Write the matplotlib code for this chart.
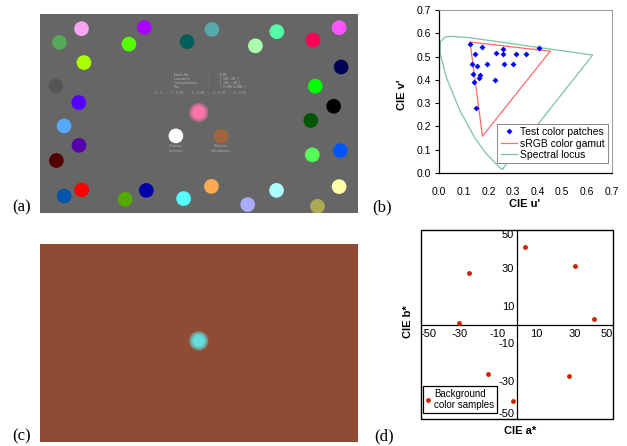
import numpy as np
import matplotlib.pyplot as plt
from matplotlib.patches import Circle, Rectangle

plt.rcParams['font.family'] = ['Liberation Sans', 'DejaVu Sans']
plt.rcParams['axes.unicode_minus'] = False

# ---- (a) test screen: colour patches on a 1280x800 grey display ----
screen_w, screen_h = 1280, 800
patch_x = [167, 78, 420, 358, 592, 692, 867, 953, 1099, 1204,
           177, 63, 1212, 156, 1108, 1182, 97, 1090, 157, 66,
           1096, 1209, 168, 97, 343, 428, 578, 690, 836, 952, 1204, 1117]
patch_y = [59, 114, 54, 121, 111, 62, 128, 71, 105, 55,
           195, 290, 213, 356, 290, 371, 450, 428, 528, 589,
           566, 549, 707, 732, 745, 709, 742, 693, 766, 709, 694, 773]
patch_colors = ['#F8A4F4', '#55AA55', '#AA00FF', '#55FF00', '#005F5A', '#55AAAA',
                '#AAFFAA', '#55FFAA', '#FF0055', '#FF55FF', '#AAFF00', '#555555',
                '#000055', '#5500FF', '#00FF00', '#000000', '#55AAFF', '#005500',
                '#5500AA', '#550000', '#55FF55', '#0055FF', '#FF0000', '#0055AA',
                '#55AA00', '#0000AA', '#55FFFF', '#FFAA55', '#AAAAFF', '#AAFFFF',
                '#FFFFAA', '#AAAA55']
ref_x = [547, 729]
ref_y = [490, 491]
ref_colors = ['#FFFFFF', '#A2643C']
ref_labels = ['Reference\nLuminance', 'Reference\nColourbalance']
info_lines = ['Patch No.          :      0/35',
              'Luminance          :      [ 100 189 ]',
              'Colourbalance      :      [ 100 : 60 ]',
              'Ros                :      [ 0.000 0.000 ]']
info_footer = 'X: 0  ,  Y: 0.00  ,  L: 0.00  ,  U: 0.00  ,  V: 0.00'
target_xy = (639, 396)
target_color = '#FF77AA'

# ---- (b) CIE u'v' chromaticities ----
patch_u = [0.125, 0.172, 0.145, 0.230, 0.257, 0.257, 0.312, 0.354, 0.405, 0.133,
           0.152, 0.195, 0.262, 0.300, 0.137, 0.167, 0.160, 0.140, 0.227, 0.151]
patch_v = [0.556, 0.541, 0.513, 0.514, 0.531, 0.511, 0.513, 0.513, 0.537, 0.470,
           0.461, 0.469, 0.466, 0.466, 0.426, 0.423, 0.406, 0.391, 0.399, 0.281]
srgb_u = [0.4507, 0.1250, 0.1754, 0.4507]
srgb_v = [0.5229, 0.5625, 0.1579, 0.5229]
locus_u = [0.2568, 0.2522, 0.2347, 0.2161, 0.1877, 0.1441, 0.0828, 0.0282, 0.0035,
           0.0046, 0.0231, 0.0501, 0.1127, 0.2026, 0.4035, 0.5203, 0.6234, 0.2568]
locus_v = [0.0166, 0.0169, 0.0350, 0.0549, 0.0871, 0.1510, 0.2708, 0.4117, 0.5131,
           0.5638, 0.5837, 0.5868, 0.5821, 0.5694, 0.5393, 0.5219, 0.5065, 0.0166]
uv_ticks = [0.0, 0.1, 0.2, 0.3, 0.4, 0.5, 0.6, 0.7]

# ---- (d) background colours in a*b* ----
bg_a = [4, 30, -25, 40, -30, -15, 27, -2]
bg_b = [41, 31, 27.5, 3, 0.8, -26, -27.5, -40.6]
ab_ticks = [-50, -30, -10, 10, 30, 50]

# ---- (c) target on background ----
bg_color = '#8E4C35'
target_c_color = '#66DDDD'

W, H = 627, 446
fig = plt.figure(figsize=(6.27, 4.46), dpi=100)


def px_axes(x0, y0, x1, y1):
    return fig.add_axes([x0 / W, 1 - y1 / H, (x1 - x0) / W, (y1 - y0) / H])


def screen_axes(ax, face):
    ax.set_xlim(0, screen_w)
    ax.set_ylim(screen_h, 0)
    ax.set_facecolor(face)
    ax.set_xticks([])
    ax.set_yticks([])
    for s in ax.spines.values():
        s.set_visible(False)


def soft_dot(ax, xy, color, r_core, r_glow, n=10):
    # blurred edge as a stack of faint rings
    for r in np.linspace(r_glow, r_core, n):
        ax.add_patch(Circle(xy, r, color=color, alpha=0.18, lw=0))
    ax.add_patch(Circle(xy, r_core, color=color, lw=0))


# (a)
ax_a = px_axes(40, 14, 358, 213)
screen_axes(ax_a, '#666666')
for x, y, c in zip(patch_x, patch_y, patch_colors):
    ax_a.add_patch(Circle((x, y), 29.5, color=c, lw=0))
for x, y, c, lab in zip(ref_x, ref_y, ref_colors, ref_labels):
    ax_a.add_patch(Circle((x, y), 29.5, color=c, lw=0))
    ax_a.text(x, y + 50, lab, ha='center', va='center', fontsize=2.2,
              color='#AAAAAA', linespacing=1.3)
soft_dot(ax_a, target_xy, target_color, 24, 40)
for i, line in enumerate(info_lines):
    ax_a.text(538, 244 + i * 15, line, fontsize=2.2, color='#BBBBBB',
              va='center', family='DejaVu Sans Mono')
ax_a.text(645, 317, info_footer, fontsize=2.2, color='#AAAAAA',
          ha='center', va='center', family='DejaVu Sans Mono')

# (c)
ax_c = px_axes(40, 244, 358, 442)
screen_axes(ax_c, bg_color)
soft_dot(ax_c, (639, 391), target_c_color, 24, 40)

# (b)
ax_b = px_axes(439.3, 10, 611.5, 173)
ax_b.plot(patch_u, patch_v, 'D', color='#0000FF', ms=3, mew=0,
          label='Test color patches', zorder=3)
ax_b.plot(srgb_u, srgb_v, color='#FF6A6A', lw=0.9, label='sRGB color gamut')
ax_b.plot(locus_u, locus_v, color='#7CC4A0', lw=0.9, label='Spectral locus')
ax_b.set_xlim(0, 0.7)
ax_b.set_ylim(0, 0.7)
ax_b.set_xticks(uv_ticks)
ax_b.set_yticks(uv_ticks)
ax_b.set_xticklabels(['%.1f' % t for t in uv_ticks])
ax_b.set_yticklabels(['%.1f' % t for t in uv_ticks])
ax_b.tick_params(axis='y', direction='out', length=3, width=0.8, pad=3,
                 labelsize=7.5)
ax_b.tick_params(axis='x', direction='out', length=0, pad=10, labelsize=7.5)
for s in ['top', 'right']:
    ax_b.spines[s].set_color('#999999')
    ax_b.spines[s].set_linewidth(0.7)
for s in ['left', 'bottom']:
    ax_b.spines[s].set_color('black')
    ax_b.spines[s].set_linewidth(0.9)
leg_b = ax_b.legend(loc='lower right', bbox_to_anchor=(0.98, 0.06),
                    prop={'size': 7.5},
                    fancybox=False, edgecolor='#888888', framealpha=1,
                    handlelength=1.6, handletextpad=0.3, borderpad=0.3,
                    labelspacing=0.15, borderaxespad=0)
leg_b.get_frame().set_linewidth(0.7)
fig.text(525 / W, 1 - 204 / H, "CIE u'", ha='center', va='center',
         fontsize=8, fontweight='bold')
fig.text(402 / W, 1 - 95 / H, "CIE v'", ha='center', va='center', rotation=90,
         fontsize=8, fontweight='bold')

# (d)
ax_d = px_axes(420.7, 230, 613.3, 419)
ax_d.plot(bg_a, bg_b, 'o', color='#CC2200', ms=3.5, mew=0,
          label='Background\ncolor samples', zorder=3)
ax_d.set_xlim(-50, 50)
ax_d.set_ylim(-50, 50)
ax_d.spines['left'].set_position('zero')
ax_d.spines['bottom'].set_position('zero')
ax_d.spines['top'].set_visible(False)
ax_d.spines['right'].set_visible(False)
for s in ['left', 'bottom']:
    ax_d.spines[s].set_linewidth(0.9)
ax_d.add_patch(Rectangle((0, 0), 1, 1, transform=ax_d.transAxes, fill=False,
                         lw=1.0, ec='black', clip_on=False))
ax_d.set_xticks(ab_ticks)
ax_d.set_yticks(ab_ticks)
ax_d.tick_params(direction='out', length=0, labelsize=8)
ax_d.tick_params(axis='x', pad=3)
ax_d.tick_params(axis='y', pad=2)
# keep the end labels inside the frame
xl = ax_d.get_xticklabels()
xl[0].set_ha('left')
xl[-1].set_ha('right')
yl = ax_d.get_yticklabels()
yl[0].set_va('bottom')
yl[-1].set_va('top')
leg_d = ax_d.legend(loc='lower left', bbox_to_anchor=(0.01, 0.03),
                    prop={'size': 7},
                    fancybox=False, edgecolor='black', framealpha=1,
                    handlelength=0.6, handletextpad=0.3, borderpad=0.3,
                    borderaxespad=0)
leg_d.get_frame().set_linewidth(0.9)
fig.text(408 / W, 1 - 322 / H, 'CIE b*', ha='center', va='center', rotation=90,
         fontsize=8, fontweight='bold')
fig.text(520 / W, 1 - 431 / H, 'CIE a*', ha='center', va='center',
         fontsize=8, fontweight='bold')

# panel letters
for lab, x, y in [('(a)', 22, 207), ('(b)', 382, 207), ('(c)', 22, 436), ('(d)', 384, 436)]:
    fig.text(x / W, 1 - y / H, lab, ha='center', va='center', fontsize=12,
             family='Liberation Serif')

fig.savefig('out.png', dpi=100)
